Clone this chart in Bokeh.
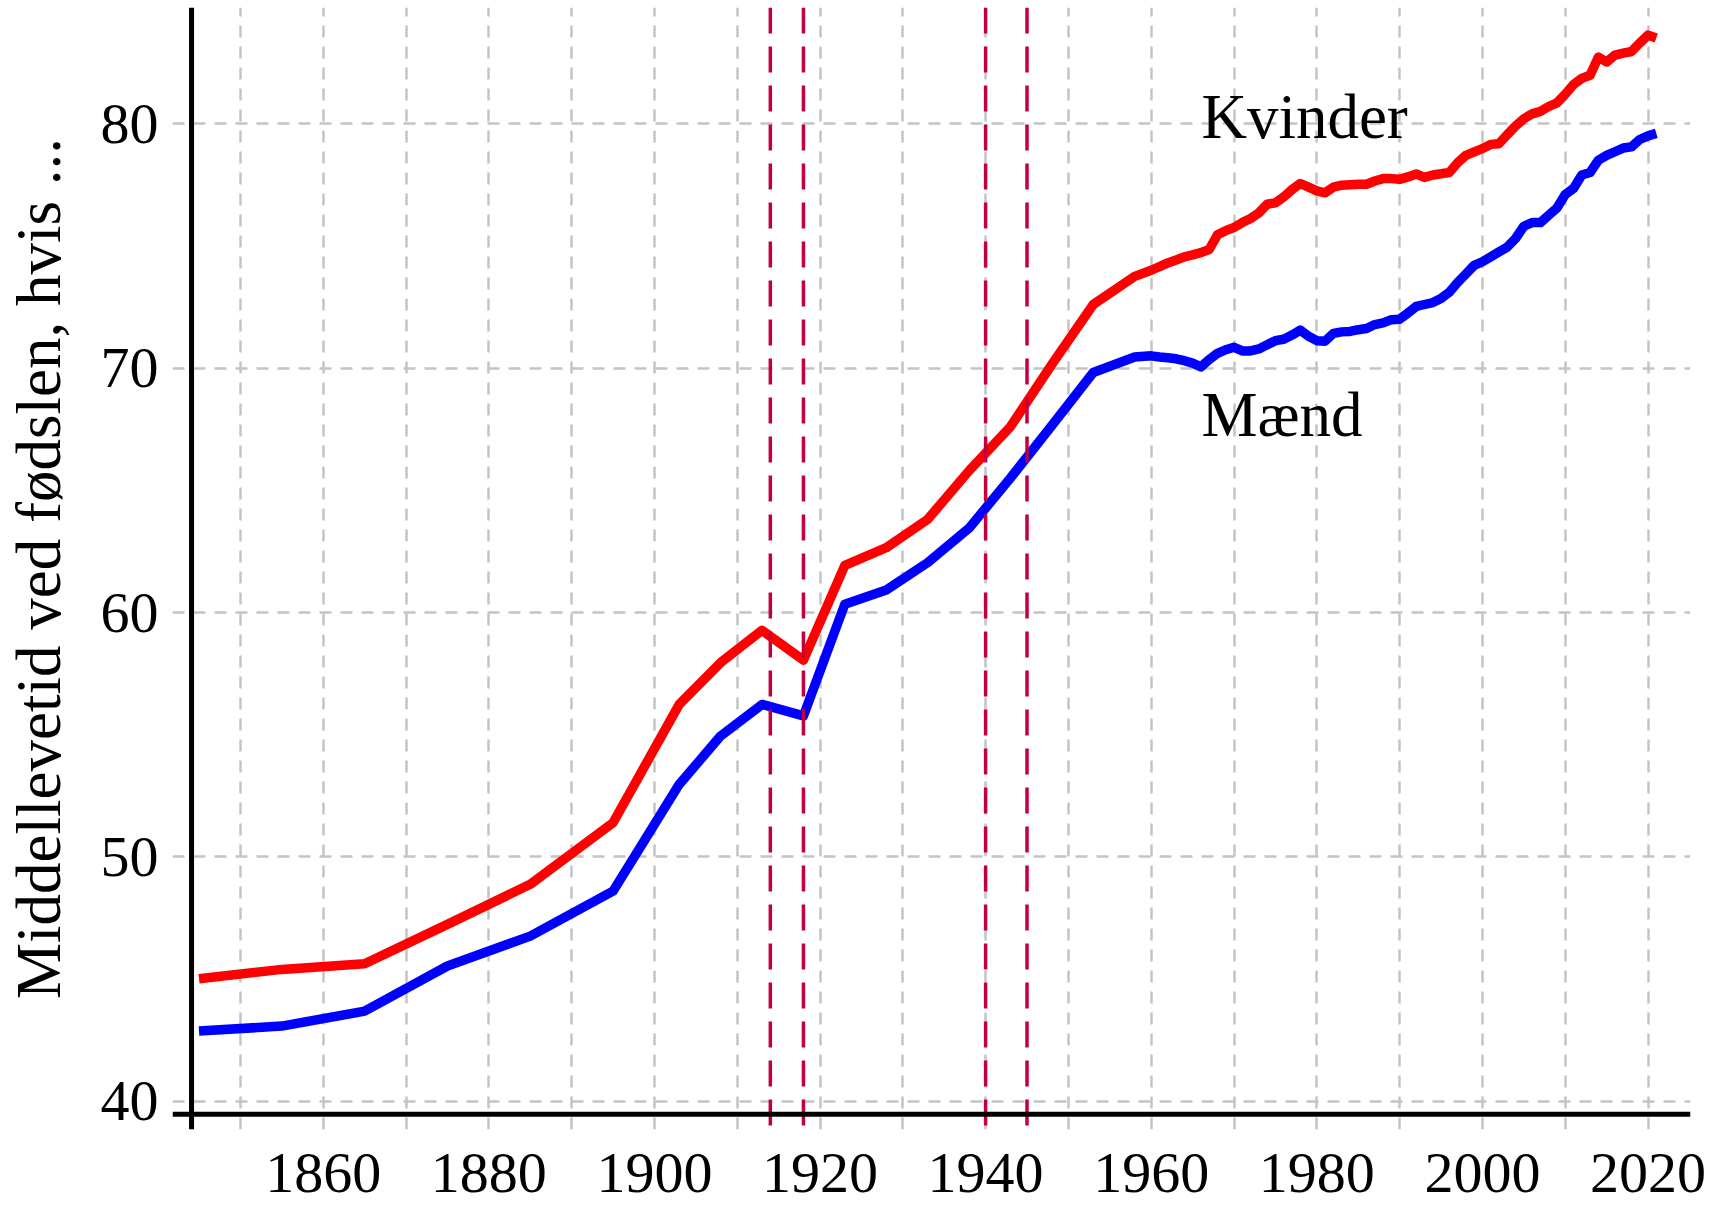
from bokeh.plotting import figure
from bokeh.models import FixedTicker, Span, Label
from bokeh.embed import file_html
from bokeh.resources import INLINE

# ---- data ----
years_early = [1845, 1855, 1865, 1875, 1885, 1895, 1903, 1908, 1913, 1918,
               1923, 1928, 1933, 1938, 1943, 1948, 1953, 1958]
years_annual = list(range(1960, 2022))
years = years_early + years_annual

kvinder_early = [45.02, 45.40, 45.63, 47.24, 48.88, 51.40, 56.24, 57.95, 59.27, 58.05,
                 61.93, 62.65, 63.81, 65.80, 67.60, 70.15, 72.60, 73.75]
kvinder_annual = [
    74.00, 74.15, 74.30, 74.42, 74.55, 74.63, 74.72, 74.85, 75.45, 75.62,   # 1960-69
    75.75, 75.95, 76.12, 76.35, 76.70, 76.76, 77.00, 77.30, 77.55, 77.40,   # 1970-79
    77.25, 77.17, 77.40, 77.48, 77.50, 77.52, 77.52, 77.65, 77.75, 77.75,   # 1980-89
    77.72, 77.82, 77.94, 77.80, 77.90, 77.95, 78.00, 78.40, 78.70, 78.84,   # 1990-99
    78.98, 79.15, 79.18, 79.55, 79.90, 80.20, 80.40, 80.50, 80.70, 80.85,   # 2000-09
    81.20, 81.60, 81.85, 81.98, 82.72, 82.52, 82.80, 82.88, 82.95, 83.30,   # 2010-19
    83.62, 83.50]                                                           # 2020-21
kvinder = kvinder_early + kvinder_annual

maend_early = [42.88, 43.08, 43.69, 45.54, 46.76, 48.60, 52.97, 54.95, 56.24, 55.77,
               60.34, 60.92, 62.04, 63.45, 65.50, 67.65, 69.82, 70.45]
maend_annual = [
    70.50, 70.45, 70.42, 70.38, 70.30, 70.20, 70.05, 70.35, 70.60, 70.75,   # 1960-69
    70.85, 70.70, 70.70, 70.78, 70.95, 71.12, 71.18, 71.35, 71.55, 71.30,   # 1970-79
    71.12, 71.10, 71.42, 71.48, 71.50, 71.57, 71.62, 71.78, 71.85, 71.98,   # 1980-89
    72.00, 72.25, 72.52, 72.60, 72.68, 72.85, 73.10, 73.50, 73.85, 74.20,   # 1990-99
    74.35, 74.55, 74.75, 74.95, 75.30, 75.80, 75.95, 75.95, 76.25, 76.55,   # 2000-09
    77.10, 77.35, 77.90, 78.00, 78.50, 78.70, 78.85, 79.00, 79.05, 79.35,   # 2010-19
    79.50, 79.60]                                                           # 2020-21
maend = maend_early + maend_annual

war_years = [1914, 1918, 1940, 1945]
series_names = ["Kvinder", "Mænd"]
x_tick_labels = [1860, 1880, 1900, 1920, 1940, 1960, 1980, 2000, 2020]
x_minor_grid = [1850, 1870, 1890, 1910, 1930, 1950, 1970, 1990, 2010]
y_ticks = [40, 50, 60, 70, 80]
y_title = "Middellevetid ved fødslen, hvis ..."

FONT = "Liberation Serif"
GRID = "#c4c4c4"
GRID_DASH = "12 9"

p = figure(width=1735, height=1206,
           x_range=(1841.8, 2025.13), y_range=(38.85, 84.75),
           output_backend="svg", toolbar_location=None,
           min_border_left=172, min_border_right=45,
           min_border_top=7, min_border_bottom=77)
p.outline_line_color = None
p.background_fill_color = "white"
p.border_fill_color = "white"

# axes (labels only; lines drawn as spans)
p.xaxis.ticker = FixedTicker(ticks=x_tick_labels, minor_ticks=x_minor_grid)
p.yaxis.ticker = FixedTicker(ticks=y_ticks, minor_ticks=[])
for ax in (p.xaxis, p.yaxis):
    ax.axis_line_color = None
    ax.major_tick_line_color = None
    ax.minor_tick_line_color = None
    ax.major_tick_out = 0
    ax.major_tick_in = 0
    ax.minor_tick_out = 0
    ax.minor_tick_in = 0
    ax.major_label_text_font = FONT
    ax.major_label_text_font_size = "58px"
    ax.major_label_text_color = "black"
p.xaxis.major_label_standoff = 24
p.yaxis.major_label_standoff = 14
p.yaxis.axis_label = y_title
p.yaxis.axis_label_text_font = FONT
p.yaxis.axis_label_text_font_size = "63px"
p.yaxis.axis_label_text_font_style = "normal"
p.yaxis.axis_label_text_color = "black"
p.yaxis.axis_label_standoff = 24

# grid
for g in (p.xgrid, p.ygrid):
    g.grid_line_color = GRID
    g.grid_line_width = 2.5
    g.grid_line_dash = GRID_DASH
p.xgrid.minor_grid_line_color = GRID
p.xgrid.minor_grid_line_width = 2.5
p.xgrid.minor_grid_line_dash = GRID_DASH

# data lines
p.line(years, kvinder, line_color="#ff0000", line_width=9.5, line_join="round")
p.line(years, maend, line_color="#0000ff", line_width=9.5, line_join="round")

# war markers
for yr in war_years:
    p.add_layout(Span(location=yr, dimension="height", line_color="#c4003c",
                      line_width=3.5, line_dash="26 13"))

# axis lines (offset style)
p.add_layout(Span(location=1844.1, dimension="height", line_color="black", line_width=5))
p.add_layout(Span(location=39.47, dimension="width", line_color="black", line_width=5))

# series labels
p.add_layout(Label(x=1966.06, y=80.28, text=series_names[0], text_font=FONT,
                   text_font_size="63px", text_color="black",
                   text_baseline="middle", text_align="left"))
p.add_layout(Label(x=1966.06, y=68.10, text=series_names[1], text_font=FONT,
                   text_font_size="63px", text_color="black",
                   text_baseline="middle", text_align="left"))

open("out.html", "w").write(file_html(p, INLINE))
